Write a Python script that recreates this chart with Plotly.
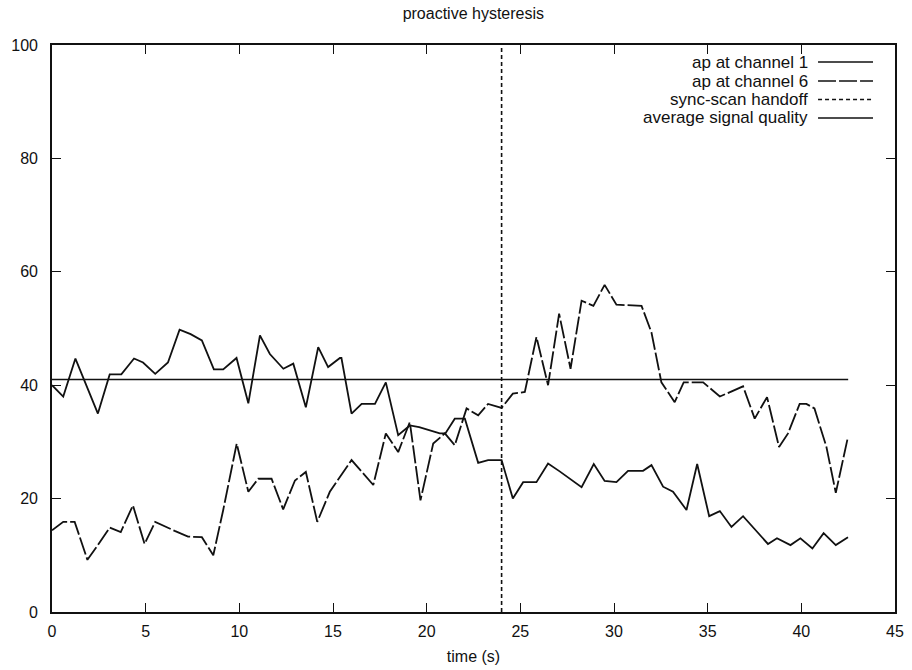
import plotly.graph_objects as go

# ---- data ----
ch1_t = [0, 0.6, 1.25, 2.45, 3.08, 3.7, 4.38, 4.86, 5.51, 6.19, 6.81, 7.4, 8.0, 8.64, 9.14,
         9.85, 10.48, 11.1, 11.63, 12.35, 12.88, 13.55, 14.21, 14.74, 15.37, 15.45, 15.99,
         16.53, 17.24, 17.82, 18.48, 19.1, 19.6, 20.7, 21.0, 21.5, 22.04, 22.75, 23.28, 24.0,
         24.6, 25.15, 25.86, 26.48, 27.1, 27.7, 28.27, 28.92, 29.5, 30.13, 30.75, 31.55, 32.0,
         32.62, 33.15, 33.87, 34.44, 35.08, 35.65, 36.27, 36.89, 38.22, 38.7, 39.42, 39.95,
         40.59, 41.19, 41.84, 42.49]
ch1_q = [40, 38, 44.7, 35, 41.9, 41.9, 44.7, 44, 42, 44, 49.8, 49, 47.9, 42.8, 42.8,
         44.8, 36.8, 48.8, 45.5, 42.9, 43.8, 36.1, 46.7, 43.2, 44.8, 44.8, 35,
         36.7, 36.7, 40.5, 31.2, 32.9, 32.6, 31.5, 31.5, 34.1, 34.1, 26.3, 26.8, 26.8,
         20.0, 22.9, 22.9, 26.2, 24.8, 23.4, 22.0, 26.1, 23.1, 22.9, 24.9, 24.9, 25.9,
         22.1, 21.2, 18.0, 26.1, 16.9, 17.8, 15.0, 16.9, 12.0, 13.0, 11.8, 13.0,
         11.2, 13.9, 11.8, 13.2]

ch6_t = [0, 0.6, 1.21, 1.89, 2.45, 3.08, 3.67, 4.32, 4.94, 5.51, 6.55, 7.26, 8.0, 8.61,
         9.14, 9.86, 10.48, 11.01, 11.72, 12.34, 12.97, 13.55, 14.16, 14.83, 15.99, 17.15,
         17.82, 18.48, 19.1, 19.67, 20.35, 20.97, 21.5, 22.13, 22.75, 23.28, 24.0, 24.6,
         25.24, 25.86, 26.48, 27.07, 27.68, 28.27, 28.9, 29.5, 30.13, 31.47, 32.0, 32.53,
         33.24, 33.72, 34.76, 35.65, 36.89, 37.51, 38.17, 38.81, 39.29, 39.91, 40.27, 40.7,
         41.34, 41.84, 42.49]
ch6_q = [14.4, 15.9, 15.9, 9.2, 11.8, 14.9, 14.1, 18.8, 12.0, 15.9, 14.3, 13.3, 13.2, 10.0,
         18.0, 29.7, 21.2, 23.5, 23.5, 18.1, 23.2, 24.7, 15.9, 21.2, 26.8, 22.4,
         31.5, 28.2, 33.5, 19.7, 29.7, 31.5, 29.4, 35.9, 34.7, 36.7, 36.0, 38.5,
         38.8, 48.5, 40.0, 52.6, 42.9, 54.9, 54.0, 57.7, 54.2, 54.0, 49.3, 40.5,
         37.0, 40.5, 40.5, 38.0, 39.8, 34.1, 37.9, 29.1, 31.5, 36.7, 36.7, 35.9,
         29.1, 21.0, 30.9]

handoff_time = 24
avg_quality = 41
avg_span = [0, 42.5]

x_ticks = [0, 5, 10, 15, 20, 25, 30, 35, 40, 45]
y_ticks = [0, 20, 40, 60, 80, 100]

legend_labels = ["ap at channel 1", "ap at channel 6", "sync-scan handoff", "average signal quality"]

FONT = "Liberation Sans, Arial, Helvetica, sans-serif"
BLACK = "#111111"
FS = 16
LFS = 17

fig = go.Figure()
fig.add_trace(go.Scatter(x=ch1_t, y=ch1_q, mode="lines", name=legend_labels[0],
                         line=dict(color=BLACK, width=1.8)))
fig.add_trace(go.Scatter(x=ch6_t, y=ch6_q, mode="lines", name=legend_labels[1],
                         line=dict(color=BLACK, width=1.8, dash="18px,3px")))
fig.add_trace(go.Scatter(x=[handoff_time, handoff_time], y=[y_ticks[0], y_ticks[-1]], mode="lines",
                         name=legend_labels[2],
                         line=dict(color=BLACK, width=1.6, dash="4px,3px")))
fig.add_trace(go.Scatter(x=avg_span, y=[avg_quality] * len(avg_span), mode="lines",
                         name=legend_labels[3], line=dict(color=BLACK, width=1.6)))

# custom gnuplot-style legend: text right-aligned, sample on the right
dashes = ["solid", "18px,3px", "4px,3px", "solid"]
rows = [0.970, 0.9365, 0.9039, 0.8713]
for lab, d, yy in zip(legend_labels, dashes, rows):
    fig.add_annotation(x=0.8975, y=yy, xref="paper", yref="paper", text=lab,
                       showarrow=False, xanchor="right", yanchor="middle",
                       borderpad=0,
                       font=dict(family=FONT, size=LFS, color=BLACK))
    fig.add_shape(type="line", xref="paper", yref="paper", x0=0.9087, x1=0.9739,
                  y0=yy, y1=yy, line=dict(color=BLACK, width=1.6, dash=d))

axis_common = dict(showgrid=False, zeroline=False, showline=True, linecolor=BLACK,
                   linewidth=1.6, mirror="ticks", ticks="inside", ticklen=9,
                   tickwidth=1.4, tickcolor=BLACK, automargin=False,
                   tickfont=dict(family=FONT, size=FS, color=BLACK))

fig.update_layout(
    width=912, height=670,
    margin=dict(l=52, r=17, t=45, b=58, autoexpand=False),
    paper_bgcolor="white", plot_bgcolor="white",
    showlegend=False,
    title=dict(text="proactive hysteresis", x=0.519, xanchor="center",
               y=1 - 13 / 670, yanchor="middle", yref="container",
               font=dict(family=FONT, size=FS, color=BLACK)),
    xaxis=dict(range=[0, 45], tickvals=x_ticks, ticklabelstandoff=4,
               title=dict(text="time (s)", standoff=12,
                          font=dict(family=FONT, size=FS, color=BLACK)),
               **axis_common),
    yaxis=dict(range=[0, 100], tickvals=y_ticks, ticklabelstandoff=9, **axis_common),
)

fig.write_html("out.html")
